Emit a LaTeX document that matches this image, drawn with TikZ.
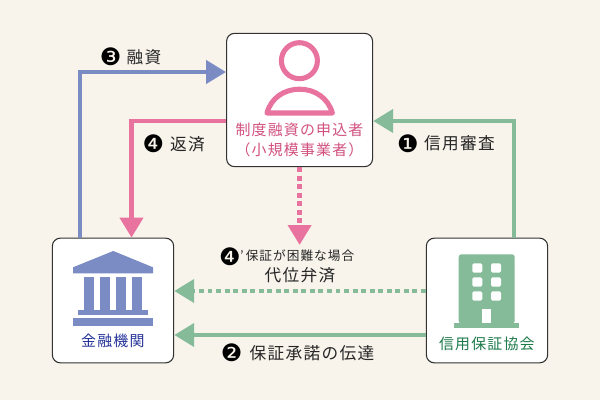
\documentclass[tikz,border=0pt]{standalone}
\usepackage{fontspec}
\usetikzlibrary{arrows.meta,calc}
\newfontfamily\jpf[LetterSpace=8]{Noto Sans CJK JP}
\newfontfamily\jps{Noto Sans CJK JP}
\newfontfamily\djv{DejaVu Sans}
\definecolor{bgc}{HTML}{F8F4EC}
\definecolor{bluec}{HTML}{7B8BC4}
\definecolor{pinkc}{HTML}{E8739F}
\definecolor{greenc}{HTML}{85BB98}
\definecolor{pinkt}{HTML}{D2517F}
\definecolor{bluet}{HTML}{26349A}
\definecolor{greent}{HTML}{1F7A4A}
\definecolor{blackt}{HTML}{262626}
\newcommand{\jsize}[1]{\fontsize{#1}{#1}\selectfont}
\tikzset{
  card/.style={draw=black!80,fill=white,line width=0.8pt,rounded corners=6pt,inner sep=0pt},
  link/.style={line width=3.7pt,-{Triangle[length=15pt,width=17pt]}},
  linkdot/.style={link,dash pattern=on 3.7pt off 2.7pt},
  lab/.style={inner sep=0pt,text=blackt,font=\jpf\jsize{12.5}},
  labs/.style={inner sep=0pt,text=blackt,font=\jpf\jsize{9.5}},
  num/.style={inner sep=0pt,text=black,font=\djv\jsize{18}},
  tag/.style={inner sep=0pt,font=\jpf\jsize{11.2}},
}
\begin{document}
\begin{tikzpicture}[x=0.75pt,y=-0.75pt]
\useasboundingbox (0,0) rectangle (600,400);
\fill[bgc] (0,0) rectangle (600,400);

% boxes
\node[card,minimum width=109.5pt,minimum height=100pt] (user) at (299.6,100) {};
\node[card,minimum width=91pt,minimum height=93.5pt] (bank) at (113,300.5) {};
\node[card,minimum width=91pt,minimum height=93.5pt] (assoc) at (487,300.5) {};

% person icon
\draw[pinkc,line width=3.8pt] (299.4,60.7) circle[radius=18];
\draw[pinkc,line width=3.8pt,line join=round]
  (267,113) .. controls (271,98) and (284,89.2) .. (299.6,89.2) .. controls (315,89.2) and (328,98) .. (332.4,113) -- cycle;

% bank icon
\fill[bluec] (113.3,251) -- (153,267.3) -- (153,273.3) -- (73,273.3) -- (73,267.3) -- cycle;
\foreach \cx in {83.7,99.7,115.7,131.7}
  \fill[bluec] (\cx,277.3) rectangle (\cx+10.6,309.5);
\fill[bluec] (78.3,309.5) rectangle (147.7,315);
\fill[bluec] (73,317.7) rectangle (153,325.7);

% building icon
\fill[greenc,rounded corners=2pt] (458.7,323.5) -- (458.7,254.3) -- (514.7,254.3) -- (514.7,323.5) -- cycle;
\fill[greenc] (454,323.3) rectangle (519,328.3);
\foreach \wy in {263.3,277.3,291.3}
  \foreach \wx in {472.3,491}
    \fill[white,rounded corners=1.2pt] (\wx,\wy) rectangle (\wx+10,\wy+9.4);
\fill[white] (481.7,309.3) rectangle (491.3,323.3);

% connectors
\coordinate (blueK) at (80,72);
\coordinate (pinkK) at (131.5,121);
\coordinate (greenK) at (514,121);
\coordinate (pinkD) at (299.6,245);
\coordinate (solidY) at (300,335);
\coordinate (dotY) at (300,291);
\draw[link,bluec] (blueK |- bank.north) -- (blueK) -- (blueK -| user.west);
\draw[link,pinkc] (pinkK -| user.west) -- (pinkK) -- (pinkK |- bank.north);
\draw[link,greenc] (greenK |- assoc.north) -- (greenK) -- (greenK -| user.east);
\draw[linkdot,pinkc] (pinkD |- user.south) -- (pinkD);
\draw[linkdot,greenc] (dotY -| assoc.west) -- (dotY -| bank.east);
\draw[link,greenc] (solidY -| assoc.west) -- (solidY -| bank.east);

% box labels
\node[tag,text=pinkt] (t1) at (299.5,130) {制度融資の申込者};
\node[tag,text=pinkt] (t2) at (299.5,150) {（小規模事業者）};
\node[tag,text=bluet] (t3) at (112.8,341) {金融機関};
\node[tag,text=greent] (t4) at (486.8,344) {信用保証協会};

% edge labels
\node[num] (n3) at (110.7,57) {❸};
\node[lab] (l3) at (144,57) {融資};
\node[num] (n4) at (153.3,144) {❹};
\node[lab] (l4) at (187.5,144) {返済};
\node[num] (n1) at (408,143.5) {❶};
\node[lab] (l1) at (459.5,143.5) {信用審査};
\node[num] (n2) at (231.7,353) {❷};
\node[lab] (l2) at (312,353) {保証承諾の伝達};
\node[num] (n5) at (230,256.7) {❹};
\node[inner sep=0pt,text=blackt,font=\jps\jsize{9.5}] (q5) at (242,255.5) {’};
\node[labs] (l5) at (300,256) {保証が困難な場合};
\node[lab] (l6) at (300,275) {代位弁済};
\end{tikzpicture}
\end{document}
